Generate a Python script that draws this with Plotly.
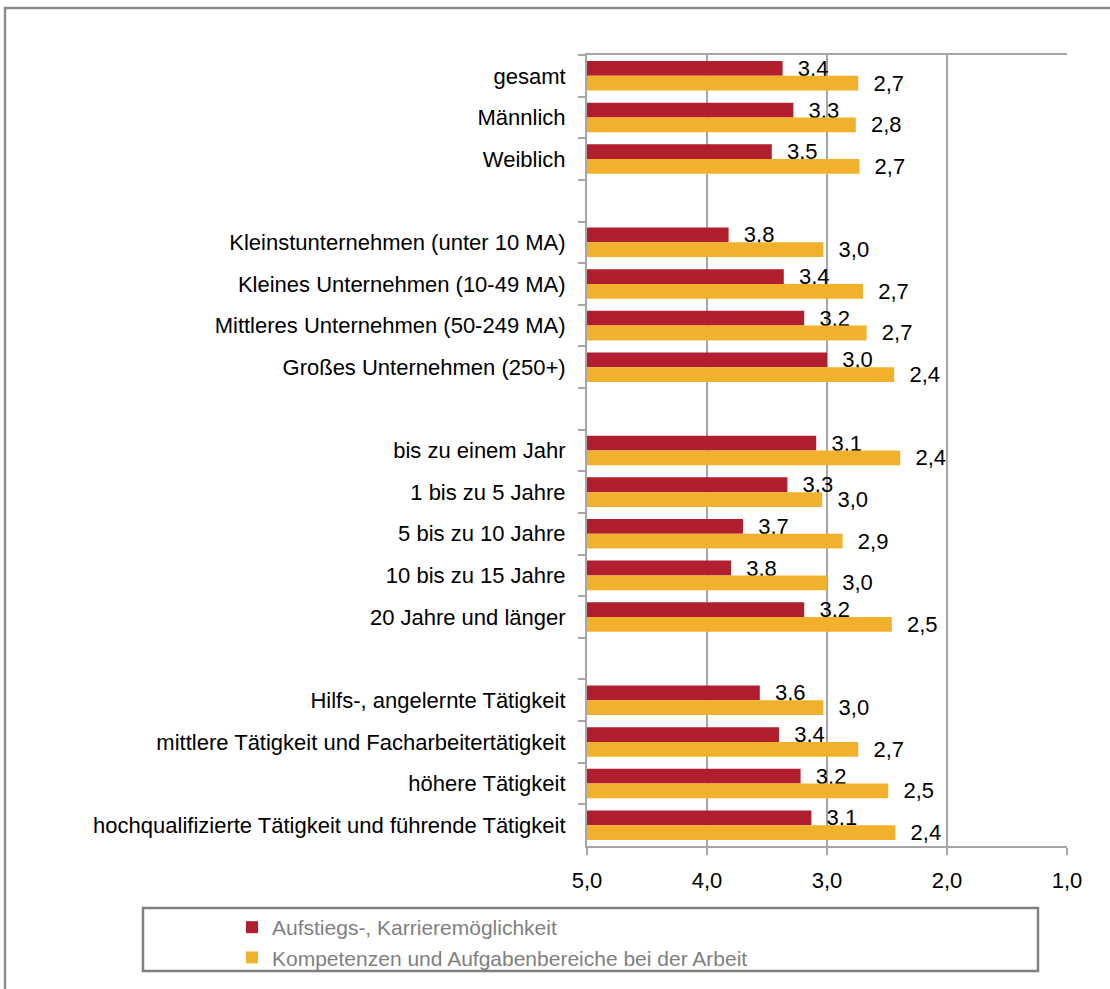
import plotly.graph_objects as go

# Row labels (blank entries separate the groups)
categories = [
    "gesamt", "Männlich", "Weiblich", " ",
    "Kleinstunternehmen (unter 10 MA)", "Kleines Unternehmen (10-49 MA)",
    "Mittleres Unternehmen (50-249 MA)", "Großes Unternehmen (250+)", "  ",
    "bis zu einem Jahr", "1 bis zu 5 Jahre", "5 bis zu 10 Jahre",
    "10 bis zu 15 Jahre", "20 Jahre und länger", "   ",
    "Hilfs-, angelernte Tätigkeit",
    "mittlere Tätigkeit und Facharbeitertätigkeit",
    "höhere Tätigkeit",
    "hochqualifizierte Tätigkeit und führende Tätigkeit",
]

series_names = [
    "Aufstiegs-, Karrieremöglichkeit",
    "Kompetenzen und Aufgabenbereiche bei der Arbeit",
]

# Mean ratings (scale 1 = best ... 5 = worst)
karriere = [3.37, 3.28, 3.46, None,
            3.82, 3.36, 3.19, 3.00, None,
            3.09, 3.33, 3.70, 3.80, 3.19, None,
            3.56, 3.40, 3.22, 3.13]
kompetenzen = [2.74, 2.76, 2.73, None,
               3.03, 2.70, 2.67, 2.44, None,
               2.39, 3.04, 2.87, 3.00, 2.46, None,
               3.03, 2.74, 2.49, 2.43]

x_ticks = [5, 4, 3, 2, 1]
scale_start = 5

colors = ["#B11E2E", "#F1B12D"]
GRID = "#A6A6A6"
FONT = "Liberation Sans, Arial, sans-serif"

# plot area in pixels
W, H = 1110, 989
PL, PR, PT, PB = 587, 1067, 55, 846
pw, ph = PR - PL, PB - PT


def px_x(x):
    return (x - PL) / pw


def px_y(y):
    return (PB - y) / ph


fig = go.Figure()
for name, vals, col in zip(series_names, [karriere, kompetenzen], colors):
    fig.add_trace(go.Bar(
        y=categories,
        x=[None if v is None else v - scale_start for v in vals],
        base=scale_start,
        customdata=vals,
        orientation="h",
        name=name,
        marker=dict(color=col, line=dict(width=0)),
        texttemplate="\u00a0\u00a0%{customdata:.1f}",
        textposition="outside",
        constraintext="none",
        cliponaxis=False,
        textfont=dict(family=FONT, size=22, color="#000000"),
        hoverinfo="skip",
    ))

fig.update_layout(
    width=W, height=H,
    margin=dict(l=PL, r=W - PR, t=PT, b=H - PB, autoexpand=False),
    paper_bgcolor="white", plot_bgcolor="white",
    separators=",.",
    barmode="group",
    bargap=0.29,
    bargroupgap=0,
    font=dict(family=FONT, size=22, color="#000000"),
    showlegend=True,
    legend=dict(
        xref="container", yref="container",
        x=232 / W, y=1 - 907 / H, xanchor="left", yanchor="top",
        orientation="v", traceorder="normal",
        font=dict(family=FONT, size=21, color="#7F7F7F"),
        bgcolor="rgba(0,0,0,0)", borderwidth=0,
        itemwidth=30, tracegroupgap=0,
    ),
    xaxis=dict(
        range=[5, 1], autorange=False,
        tickvals=x_ticks, tickformat=".1f",
        showgrid=True, gridcolor=GRID, gridwidth=2,
        zeroline=False,
        showline=True, linecolor=GRID, linewidth=2, mirror=True,
        ticks="outside", ticklen=7, tickcolor=GRID, tickwidth=2,
        tickfont=dict(family=FONT, size=22, color="#000000"),
        ticklabelstandoff=7,
    ),
    yaxis=dict(
        type="category",
        categoryorder="array", categoryarray=categories,
        autorange="reversed",
        showgrid=False, zeroline=False,
        showline=True, linecolor=GRID, linewidth=2,
        ticks="outside", ticklen=7, tickcolor=GRID, tickwidth=2,
        tickson="boundaries",
        tickfont=dict(family=FONT, size=22, color="#000000"),
        ticklabelstandoff=15,
    ),
    shapes=[
        # legend frame
        dict(type="rect", xref="paper", yref="paper",
             x0=px_x(143), x1=px_x(1038), y0=px_y(971), y1=px_y(908),
             line=dict(color="#808080", width=2.5), fillcolor="rgba(0,0,0,0)",
             layer="below"),
        # chart frame
        dict(type="rect", xref="paper", yref="paper",
             x0=px_x(5), x1=px_x(1130), y0=px_y(1010), y1=px_y(8),
             line=dict(color="#8C8C8C", width=2.5), fillcolor="rgba(0,0,0,0)",
             layer="below"),
    ],
)

fig.write_html("out.html")
